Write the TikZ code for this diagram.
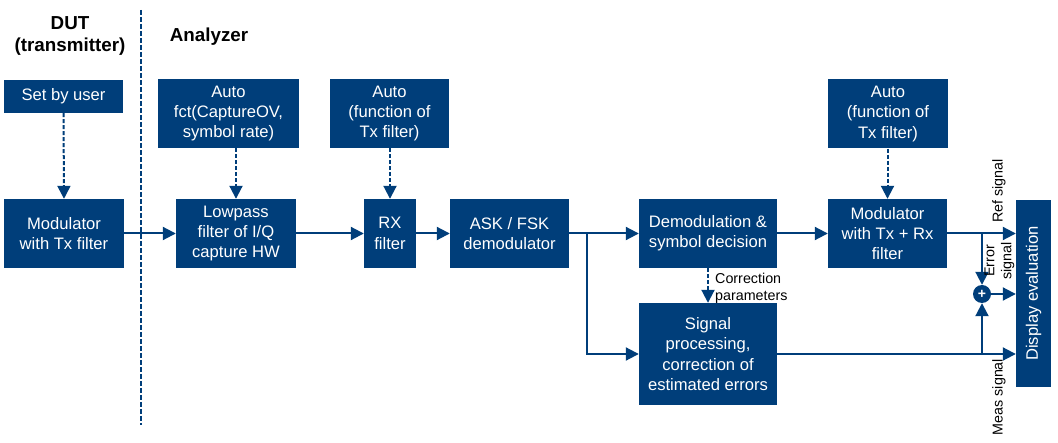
\documentclass[tikz,border=0pt]{standalone}
\usepackage{fontspec}
\setmainfont{Liberation Sans}
\usetikzlibrary{arrows.meta}
\definecolor{myblue}{RGB}{0,62,122}
\begin{document}
\begin{tikzpicture}[x=1pt,y=-1pt,
  blk/.style={fill=myblue,text=white,align=center,inner sep=0pt,
    font=\fontsize{16.6}{20.3}\selectfont},
  conn/.style={draw=myblue,line width=2pt,-{Triangle[length=13pt,width=13pt]}},
  dconn/.style={conn,dash pattern=on 4pt off 2pt},
  lbl/.style={text=black,font=\fontsize{14.3}{17}\selectfont,inner sep=0pt,align=center},
  ttl/.style={text=black,font=\fontsize{18.8}{22}\selectfont\bfseries,inner sep=0pt,align=center}]
\useasboundingbox (0,0) rectangle (1058,443);
% titles
\node[ttl] (dut) at (70,36) {DUT\\(transmitter)};
\node[ttl] (ana) at (209,37) {Analyzer};
\coordinate (septop) at (141,10);
\coordinate (sepbot) at (141,425);
\draw[myblue,line width=2pt,dash pattern=on 5pt off 2pt] (septop) -- (sepbot);
% boxes
\node[blk,minimum width=119pt,minimum height=33pt] (user) at (63.5,96.5) {Set by user};
\node[blk,minimum width=120pt,minimum height=69pt] (mod1) at (64,233.5) {Modulator\\with Tx filter};
\node[blk,minimum width=141pt,minimum height=69pt] (autofct) at (228.5,113.5) {Auto\\fct(CaptureOV,\\symbol rate)};
\node[blk,minimum width=120pt,minimum height=69pt] (lowpass) at (236,233.5) {Lowpass\\filter of I/Q\\capture HW};
\node[blk,minimum width=119pt,minimum height=69pt] (auto2) at (389.5,113.5) {Auto\\(function of\\Tx filter)};
\node[blk,minimum width=52pt,minimum height=69pt] (rx) at (390,233.5) {RX\\filter};
\node[blk,minimum width=119pt,minimum height=69pt] (ask) at (509.5,233.5) {ASK / FSK\\demodulator};
\node[blk,minimum width=138pt,minimum height=69pt] (demod) at (708,233.5) {Demodulation \&\\symbol decision};
\node[blk,minimum width=138pt,minimum height=102pt] (sigproc) at (708,354) {Signal\\processing,\\correction of\\estimated errors};
\node[blk,minimum width=120pt,minimum height=69pt] (auto3) at (888,114) {Auto\\(function of\\Tx filter)};
\node[blk,minimum width=119pt,minimum height=69pt] (mod2) at (887.5,233.5) {Modulator\\with Tx + Rx\\filter};
\node[blk,minimum width=187pt,minimum height=35pt,rotate=90] (disp) at (1033.5,293.5) {Display evaluation};
\node[circle,fill=myblue,minimum size=18pt,inner sep=0pt,text=white,font=\fontsize{14}{14}\selectfont\bfseries] (plus) at (982,294) {+};
% dashed control arrows
\draw[dconn] (user.south) -- (mod1.north);
\draw[dconn] (lowpass.north |- autofct.south) -- (lowpass.north);
\draw[dconn] (auto2.south -| rx.north) -- (rx.north);
\draw[dconn] (auto3.south -| mod2.north) -- (mod2.north);
\draw[dconn] (demod.south) -- (sigproc.north);
\node[lbl,align=left,anchor=west] (corr) at (715,288) {Correction\\parameters};
% signal chain
\draw[conn] (mod1.east) -- (lowpass.west);
\draw[conn] (lowpass.east) -- (rx.west);
\draw[conn] (rx.east) -- (ask.west);
\draw[conn] (ask.east) -- (demod.west);
\coordinate (br1) at (587,233.5);
\draw[conn] (br1) |- (sigproc.west);
\draw[conn] (demod.east) -- (mod2.west);
% outputs
\coordinate (br2) at (982,233.5);
\coordinate (br3) at (982,354);
\draw[conn] (mod2.east) -- (disp.north |- mod2.east);
\draw[conn] (sigproc.east) -- (disp.north |- sigproc.east);
\draw[conn] (br2) -- (plus.north);
\draw[conn] (br3) -- (plus.south);
\draw[conn] (plus.east) -- (disp.north |- plus.east);
% rotated labels
\node[lbl,rotate=90] (refl) at (999,191) {Ref signal};
\node[lbl,rotate=90] (errl) at (999.5,261) {Error\\signal};
\node[lbl,rotate=90] (measl) at (999,397) {Meas signal};
\end{tikzpicture}
\end{document}
